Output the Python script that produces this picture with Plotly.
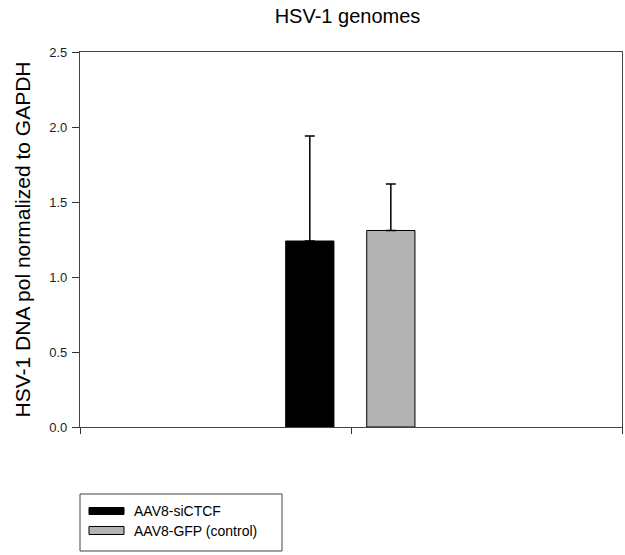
import plotly.graph_objects as go

groups = ["AAV8-siCTCF", "AAV8-GFP (control)"]
means = [1.24, 1.31]
err_up = [0.70, 0.31]
colors = ["#000000", "#b3b3b3"]
offsets = [-0.241, 0.058]
y_ticks = [0.0, 0.5, 1.0, 1.5, 2.0, 2.5]

fig = go.Figure()

for name, m, e, c, off in zip(groups, means, err_up, colors, offsets):
    fig.add_trace(go.Bar(
        x=[1], y=[m], name=name,
        width=0.178, offset=off,
        marker=dict(color=c, line=dict(color="black", width=1)),
        error_y=dict(type="data", array=[e], arrayminus=[float("nan")], symmetric=False,
                     color="black", thickness=1.5, width=5),
        showlegend=False,
    ))

# hand made legend box (wide swatches like the original)
fig.add_shape(type="rect", xref="paper", yref="paper",
              x0=0, x1=0.3727, y0=-0.3307, y1=-0.1787,
              line=dict(color="#444444", width=1), fillcolor="white")
sw_y = [(-0.2333, -0.2147), (-0.2867, -0.2653)]
txt_y = [-0.224, -0.276]
for name, c, (y0, y1), ty in zip(groups, colors, sw_y, txt_y):
    fig.add_shape(type="rect", xref="paper", yref="paper",
                  x0=0.0166, x1=0.0812, y0=y0, y1=y1,
                  line=dict(color="black", width=1), fillcolor=c)
    fig.add_annotation(xref="paper", yref="paper", x=0.0959, y=ty,
                       xanchor="left", yanchor="middle", text=name,
                       showarrow=False, font=dict(size=14, color="black"))

fig.update_layout(
    width=625, height=555,
    barmode="overlay",
    paper_bgcolor="white", plot_bgcolor="white",
    font=dict(family="Liberation Sans, Arial, sans-serif", color="black"),
    margin=dict(l=80, r=3, t=52, b=128),
    title=dict(text="HSV-1 genomes", xref="paper", x=0.4935, xanchor="center",
               y=0.971, yanchor="middle", font=dict(size=20)),
    showlegend=False,
)

fig.update_xaxes(
    range=[0, 2], tickvals=[0, 1, 2], ticktext=["", "", ""],
    ticks="outside", ticklen=6, tickcolor="#333333",
    showline=True, linecolor="#444444", linewidth=1.3, mirror=True,
    showgrid=False, zeroline=False,
)
fig.update_yaxes(
    range=[0, 2.5], tickvals=y_ticks, ticktext=[f"{v:.1f}" for v in y_ticks],
    ticks="outside", ticklen=7, tickcolor="#333333",
    showline=True, linecolor="#444444", linewidth=1.3, mirror=True,
    showgrid=False, zeroline=False, automargin=False,
    tickfont=dict(size=13, color="#222222"), ticklabelstandoff=2,
    title=dict(text="HSV-1 DNA pol normalized to GAPDH", font=dict(size=21), standoff=12),
)

fig.write_html("out.html", config={"displayModeBar": False},
               post_script="document.body.style.margin='0';document.body.style.overflow='hidden';")
